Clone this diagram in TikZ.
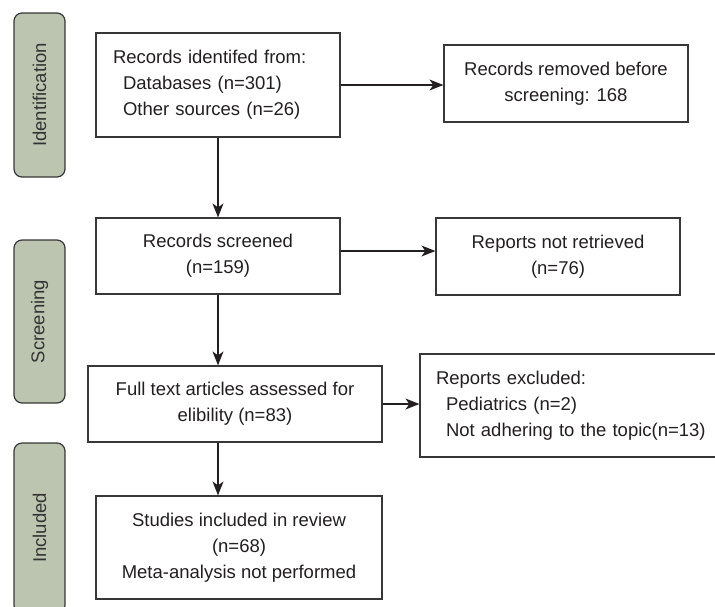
\documentclass[tikz,border=0pt]{standalone}
\usepackage{fontspec}
\setmainfont{Liberation Sans}
\usetikzlibrary{arrows.meta}
\definecolor{sage}{RGB}{188,197,176}
\definecolor{ink}{RGB}{35,31,32}
\definecolor{edgec}{RGB}{55,55,55}
\begin{document}
\begin{tikzpicture}[x=1pt,y=-1pt,
  font=\fontsize{18.5}{26}\selectfont,
  flowbox/.style={draw=edgec, line width=1.2pt, fill=white, inner sep=0pt, align=center, text=ink},
  stagebox/.style={draw=edgec, line width=1.2pt, fill=sage, rounded corners=8pt, inner sep=0pt, rotate=90, minimum height=51pt, text=black!80},
  arr/.style={draw=ink, line width=1.2pt, -{Stealth[length=14pt,width=11pt,inset=4pt]}}
]
\useasboundingbox (0,0) rectangle (715,606);
\clip (0,0) rectangle (715,606);

% stage labels
\node[stagebox, minimum width=164pt] (stId) at (39.5,95) {Identification};
\node[stagebox, minimum width=163pt] (stSc) at (39.5,321.5) {Screening};
\node[stagebox, minimum width=170pt] (stIn) at (39.5,528) {Included};

% main column
\node[flowbox, minimum width=244pt, minimum height=104pt, text width=210pt, align=left] (ident) at (218,85)
  {Records identifed from:\\\hspace*{10pt}Databases (n=301)\\\hspace*{10pt}Other sources (n=26)};
\node[flowbox, minimum width=244pt, minimum height=76pt] (screen) at (218,256)
  {Records screened\\(n=159)};
\node[flowbox, minimum width=294pt, minimum height=76pt] (full) at (235,404)
  {Full text articles assessed for\\elibility (n=83)};
\node[flowbox, minimum width=286pt, minimum height=103pt] (incl) at (239,547.5)
  {Studies included in review\\(n=68)\\Meta-analysis not performed};

% right column
\node[flowbox, minimum width=244pt, minimum height=77pt] (removed) at (566,83.5)
  {Records removed before\\screening: 168};
\node[flowbox, minimum width=244pt, minimum height=77pt] (notret) at (558,256.5)
  {Reports not retrieved\\(n=76)};
\node[flowbox, minimum width=325pt, minimum height=103pt, text width=293pt, align=left] (excl) at (582.5,405.5)
  {Reports excluded:\\\hspace*{10pt}Pediatrics (n=2)\\\hspace*{10pt}Not adhering to the topic(n=13)};

% connectors
\draw[arr] (ident.south) -- (screen.north);
\draw[arr] (screen.south) -- (screen.south |- full.north);
\draw[arr] (full.south -| screen.south) -- (incl.north -| screen.south);
\draw[arr] (ident.east) -- (ident.east -| removed.west);
\draw[arr] ([yshift=5pt]screen.east) -- ([yshift=5pt]screen.east -| notret.west);
\draw[arr] (full.east) -- (full.east -| excl.west);
\end{tikzpicture}
\end{document}
